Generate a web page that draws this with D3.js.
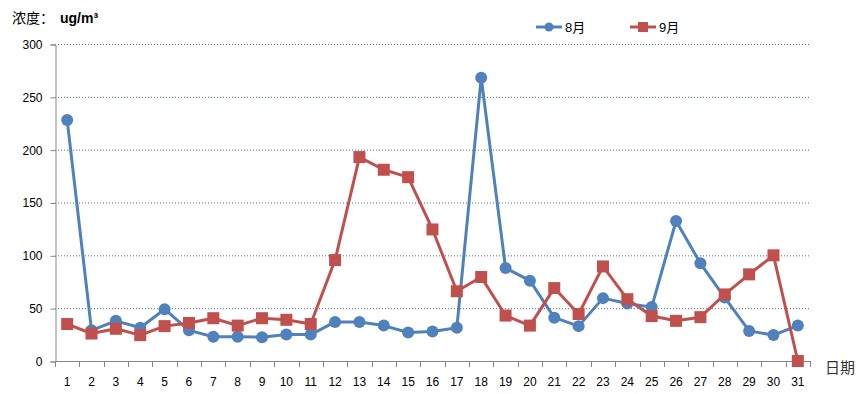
<!DOCTYPE html>
<html>
<head>
  <meta charset="utf-8">
  <title>浓度</title>
  <style>
    body { margin: 0; background: #fff; }
    text { font-family: "Liberation Sans", "Noto Sans CJK SC", sans-serif; }
  </style>
</head>
<body>
  <svg width="866" height="394"></svg>
  <script src="https://cdn.jsdelivr.net/npm/d3@7"></script>
  <script>
  // 数据
  var days = d3.range(1, 32).map(String);
  var aug = [228, 29, 38, 31.5, 49, 29, 23, 23, 22.5, 25, 25, 37, 37, 33.5, 27, 28,
             31.5, 268, 88, 76, 41, 33, 59.5, 54.5, 51, 132.5, 92.5, 60, 28.5, 24.5, 33.5];
  var sep = [35, 26, 30.5, 24.5, 33, 36, 40.5, 33.5, 40.5, 39, 35, 95.5, 193, 181, 174, 124.5,
             66, 79.5, 43, 33.5, 69, 44.5, 89.5, 58.5, 42.5, 38, 41.5, 63, 82, 100, 0];
  var yTicks = [0, 50, 100, 150, 200, 250, 300];
  var seriesNames = ["8月", "9月"];
  var colors = ["#4f81bd", "#c0504d"];

  var svg = d3.select("svg");
  var plotL = 55, plotR = 810, plotT = 44, plotB = 361;

  var x = d3.scaleBand().domain(days).range([plotL, plotR]);
  var y = d3.scaleLinear().domain([0, 300]).range([plotB, plotT]);

  // 网格线
  svg.append("g")
    .selectAll("line")
    .data(yTicks.filter(function(d) { return d > 0; }))
    .enter()
    .append("line")
    .attr("x1", plotL).attr("x2", plotR)
    .attr("y1", function(d) { return y(d) + 0.5; })
    .attr("y2", function(d) { return y(d) + 0.5; })
    .attr("stroke", "#4a6f9c")
    .attr("stroke-width", 1)
    .attr("stroke-dasharray", "1,2");

  // y轴
  var yAxis = svg.append("g")
    .attr("transform", "translate(" + (plotL + 0.5) + ",0.5)")
    .call(d3.axisLeft(y).tickValues(yTicks).tickSize(5).tickPadding(8));
  yAxis.select(".domain").attr("stroke", "#868686");
  yAxis.selectAll(".tick line").attr("stroke", "#868686");
  yAxis.selectAll(".tick text")
    .attr("font-size", 12).attr("fill", "#000")
    .style("font-family", "Liberation Sans");

  // x轴
  var xAxis = svg.append("g")
    .attr("transform", "translate(0," + (plotB + 0.5) + ")")
    .call(d3.axisBottom(x).tickSize(0).tickPadding(16));
  xAxis.select(".domain").attr("stroke", "#868686").attr("d", "M" + plotL + ",0H" + plotR);
  xAxis.selectAll(".tick text")
    .attr("font-size", 12).attr("fill", "#000")
    .style("font-family", "Liberation Sans");
  svg.append("g")
    .selectAll("line")
    .data(days.concat(["end"]))
    .enter()
    .append("line")
    .attr("x1", function(d, i) { return Math.round(plotL + i * x.bandwidth()) + 0.5; })
    .attr("x2", function(d, i) { return Math.round(plotL + i * x.bandwidth()) + 0.5; })
    .attr("y1", plotB).attr("y2", plotB + 6)
    .attr("stroke", "#868686");

  // 折线
  var line = d3.line()
    .x(function(d, i) { return x(days[i]) + x.bandwidth() / 2; })
    .y(function(d) { return y(d); });

  [aug, sep].forEach(function(vals, k) {
    svg.append("path")
      .datum(vals)
      .attr("d", line)
      .attr("fill", "none")
      .attr("stroke", colors[k])
      .attr("stroke-width", 3)
      .attr("stroke-linejoin", "round");
  });

  svg.append("g")
    .selectAll("circle")
    .data(aug)
    .enter()
    .append("circle")
    .attr("cx", function(d, i) { return x(days[i]) + x.bandwidth() / 2; })
    .attr("cy", function(d) { return y(d); })
    .attr("r", 6)
    .attr("fill", colors[0]);

  svg.append("g")
    .selectAll("rect")
    .data(sep)
    .enter()
    .append("rect")
    .attr("x", function(d, i) { return x(days[i]) + x.bandwidth() / 2 - 6; })
    .attr("y", function(d) { return y(d) - 6; })
    .attr("width", 12).attr("height", 12)
    .attr("fill", colors[1]);

  // 图例
  var legendX = [536, 630];
  seriesNames.forEach(function(name, k) {
    var g = svg.append("g").attr("transform", "translate(" + legendX[k] + ",27)");
    g.append("line").attr("x1", 0).attr("x2", 26).attr("y1", 0).attr("y2", 0)
      .attr("stroke", colors[k]).attr("stroke-width", 3);
    if (k === 0) {
      g.append("circle").attr("cx", 13).attr("cy", 0).attr("r", 4.5).attr("fill", colors[k]);
    } else {
      g.append("rect").attr("x", 8).attr("y", -5).attr("width", 10).attr("height", 10).attr("fill", colors[k]);
    }
    g.append("text").attr("x", 29).attr("y", 5)
      .attr("font-size", 13).attr("fill", "#000")
      .text(name);
  });

  // 标题
  svg.append("text").attr("x", 12).attr("y", 23).attr("font-size", 14).attr("fill", "#000")
    .style("font-family", "Noto Sans CJK SC").text("浓度：");
  svg.append("text").attr("x", 60).attr("y", 23).attr("font-size", 14).attr("fill", "#000")
    .attr("font-weight", "bold").text("ug/m³");

  svg.append("text").attr("x", 825).attr("y", 373)
    .attr("font-size", 15).attr("fill", "#333")
    .style("font-family", "Noto Sans CJK SC")
    .text("日期");
  </script>
</body>
</html>
